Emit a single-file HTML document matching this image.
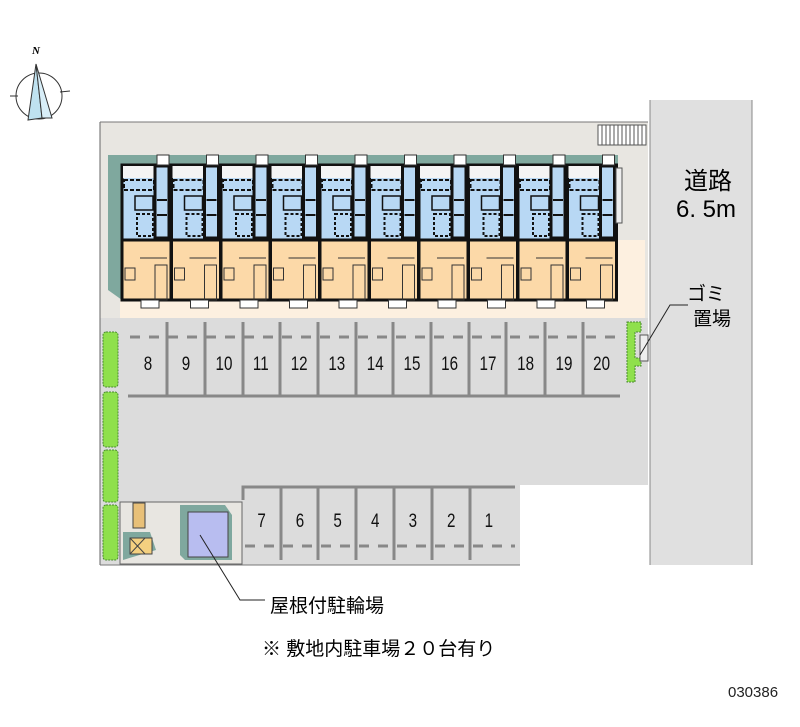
<!DOCTYPE html>
<html><head><meta charset="utf-8"><style>
body{margin:0;background:#fff;width:800px;height:727px;overflow:hidden;position:relative;font-family:"Liberation Sans","Noto Sans CJK JP",sans-serif}
svg{position:absolute;left:0;top:0}
</style></head><body>
<svg width="800" height="727" viewBox="0 0 800 727" xmlns="http://www.w3.org/2000/svg" font-family="Liberation Sans, Noto Sans CJK JP, sans-serif">
<!-- compass -->
<circle cx="39" cy="96" r="23" fill="none" stroke="#333" stroke-width="1"/>
<polygon points="36,64 28,120 42,118" fill="#bfe2f0" stroke="#333" stroke-width="1"/>
<polygon points="36,64 42,118 52,118" fill="#d8eef8" stroke="#333" stroke-width="1"/>
<line x1="10" y1="96" x2="18" y2="96" stroke="#333"/><line x1="60" y1="92" x2="70" y2="91" stroke="#333"/>
<text x="36" y="54" font-size="11" font-style="italic" font-weight="bold" text-anchor="middle" font-family="Liberation Serif, serif">N</text>
<!-- road -->
<rect x="650" y="100" width="102" height="465" fill="#e0e0e0"/>
<line x1="650" y1="100" x2="650" y2="565" stroke="#888"/>
<line x1="752" y1="100" x2="752" y2="565" stroke="#888"/>
<text x="708" y="189" font-size="24" text-anchor="middle">道路</text>
<text x="706" y="217" font-size="24" text-anchor="middle">6. 5m</text>
<!-- site base -->
<rect x="100" y="122" width="548" height="200" fill="#e8e6e1"/>
<rect x="100" y="318" width="548" height="167" fill="#dcdcdc"/>
<rect x="100" y="485" width="420" height="80" fill="#dcdcdc"/>
<line x1="100" y1="122" x2="100" y2="565" stroke="#666"/>
<line x1="100" y1="122" x2="648" y2="122" stroke="#777"/>
<line x1="100" y1="565" x2="520" y2="565" stroke="#777"/>
<rect x="598" y="125" width="48" height="20" fill="#fff" stroke="#555"/>
<g stroke="#555">
<line x1="602" y1="125" x2="602" y2="145"/><line x1="606" y1="125" x2="606" y2="145"/><line x1="610" y1="125" x2="610" y2="145"/><line x1="614" y1="125" x2="614" y2="145"/><line x1="618" y1="125" x2="618" y2="145"/><line x1="622" y1="125" x2="622" y2="145"/><line x1="626" y1="125" x2="626" y2="145"/><line x1="630" y1="125" x2="630" y2="145"/><line x1="634" y1="125" x2="634" y2="145"/><line x1="638" y1="125" x2="638" y2="145"/><line x1="642" y1="125" x2="642" y2="145"/>
</g>
<!-- cream -->
<rect x="120" y="240" width="525" height="78" fill="#fdf0e0"/>
<!-- teal -->
<rect x="108" y="155" width="510" height="10" fill="#7fa89e"/>
<polygon points="108,155 122,155 122,300 108,290" fill="#7fa89e"/>
<!-- units -->
<g id="u">
<rect x="122" y="165" width="49" height="75" fill="#b8d8f4" stroke="#111" stroke-width="3"/>
<rect x="123" y="166" width="32" height="12" fill="#f4f4f4"/>
<rect x="122" y="240" width="49" height="60" fill="#fcd9a8" stroke="#111" stroke-width="3"/>
<rect x="155" y="166" width="14" height="72" fill="#b8d8f4" stroke="#111" stroke-width="3"/>
<rect x="124" y="180" width="30" height="10" fill="none" stroke="#111" stroke-width="2" stroke-dasharray="4,2"/>
<rect x="135" y="196" width="18" height="14" fill="none" stroke="#111" stroke-width="1.5"/>
<rect x="137" y="214" width="16" height="22" fill="none" stroke="#111" stroke-width="2" stroke-dasharray="3,2"/>
<line x1="157" y1="200" x2="167" y2="200" stroke="#111" stroke-width="2"/>
<line x1="157" y1="215" x2="167" y2="215" stroke="#111" stroke-width="2"/>
<line x1="140" y1="258" x2="167" y2="258" stroke="#333"/>
<rect x="155" y="265" width="12" height="35" fill="none" stroke="#333"/>
<rect x="125" y="268" width="10" height="12" fill="none" stroke="#333"/>
<rect x="141" y="300" width="18" height="8" fill="#fff" stroke="#333"/>
<rect x="157" y="155" width="12" height="10" fill="#fff" stroke="#333"/>
</g>
<use href="#u" x="49.5"/><use href="#u" x="99"/><use href="#u" x="148.5"/><use href="#u" x="198"/><use href="#u" x="247.5"/><use href="#u" x="297"/><use href="#u" x="346.5"/><use href="#u" x="396"/><use href="#u" x="445.5"/>
<rect x="616" y="168" width="6" height="55" fill="#eee" stroke="#555"/>
<!-- parking top -->
<line x1="128" y1="396" x2="620" y2="396" stroke="#888" stroke-width="3"/>
<g stroke="#888" stroke-width="3">
<line x1="167" y1="322" x2="167" y2="396"/><line x1="205" y1="322" x2="205" y2="396"/><line x1="243" y1="322" x2="243" y2="396"/><line x1="280" y1="322" x2="280" y2="396"/><line x1="318" y1="322" x2="318" y2="396"/><line x1="356" y1="322" x2="356" y2="396"/><line x1="393" y1="322" x2="393" y2="396"/><line x1="431" y1="322" x2="431" y2="396"/><line x1="469" y1="322" x2="469" y2="396"/><line x1="506" y1="322" x2="506" y2="396"/><line x1="545" y1="322" x2="545" y2="396"/><line x1="583" y1="322" x2="583" y2="396"/>
</g>
<line x1="130" y1="337" x2="620" y2="337" stroke="#888" stroke-width="3" stroke-dasharray="10,9"/>
<g font-size="19" text-anchor="middle" fill="#111" transform="scale(0.8,1)">
<text x="185" y="370">8</text><text x="232.5" y="370">9</text><text x="280" y="370">10</text><text x="326" y="370">11</text><text x="374" y="370">12</text><text x="421" y="370">13</text><text x="469" y="370">14</text><text x="515" y="370">15</text><text x="562" y="370">16</text><text x="610" y="370">17</text><text x="657" y="370">18</text><text x="705" y="370">19</text><text x="752" y="370">20</text>
<text x="327" y="527">7</text><text x="375" y="527">6</text><text x="422" y="527">5</text><text x="469" y="527">4</text><text x="516" y="527">3</text><text x="564" y="527">2</text><text x="611" y="527">1</text>
</g>
<!-- parking bottom -->
<polyline points="243,500 243,487 515,487" fill="none" stroke="#888" stroke-width="3"/>
<g stroke="#888" stroke-width="3">
<line x1="281" y1="487" x2="281" y2="560"/><line x1="318" y1="487" x2="318" y2="560"/><line x1="356" y1="487" x2="356" y2="560"/><line x1="394" y1="487" x2="394" y2="560"/><line x1="432" y1="487" x2="432" y2="560"/><line x1="470" y1="487" x2="470" y2="560"/>
</g>
<line x1="245" y1="546" x2="515" y2="546" stroke="#888" stroke-width="3" stroke-dasharray="10,9"/>
<!-- hedges -->
<g fill="#8fe04c" stroke="#4a8a30" stroke-dasharray="2,1">
<rect x="103" y="332" width="15" height="55" rx="3"/><rect x="103" y="392" width="15" height="55" rx="3"/><rect x="103" y="450" width="15" height="52" rx="3"/><rect x="103" y="505" width="15" height="55" rx="3"/>
<path d="M627,322 h14 v10 h-6 v26 h6 v8 h-6 v16 h-8 z"/>
</g>
<rect x="640" y="335" width="8" height="26" fill="#eee" stroke="#555"/>
<!-- bottom-left structures -->
<rect x="120" y="502" width="122" height="62" fill="#e8e6e1" stroke="#666"/>
<rect x="133" y="503" width="12" height="25" fill="#e8c078" stroke="#444"/>
<polygon points="123,532 150,532 156,550 123,560" fill="#7fa89e"/>
<rect x="130" y="538" width="22" height="16" fill="#f4d080" stroke="#444"/>
<line x1="130" y1="538" x2="145" y2="554" stroke="#444"/><line x1="145" y1="538" x2="130" y2="554" stroke="#444"/>
<polygon points="180,505 225,505 232,515 232,560 185,560 180,555" fill="#7fa89e"/>
<rect x="188" y="512" width="40" height="45" fill="#b8bdf0" stroke="#444"/>
<!-- leaders -->
<polyline points="200,535 240,600 265,600" fill="none" stroke="#222"/>
<polyline points="640,355 670,305 688,305" fill="none" stroke="#222"/>
<text x="706" y="300" font-size="19" text-anchor="middle">ゴミ</text>
<text x="712" y="325" font-size="19" text-anchor="middle">置場</text>
<text x="270" y="612" font-size="19">屋根付駐輪場</text>
<text x="262" y="655" font-size="19">※ 敷地内駐車場２０台有り</text>
<text x="728" y="697" font-size="15" fill="#222">030386</text>
</svg>
</body></html>
